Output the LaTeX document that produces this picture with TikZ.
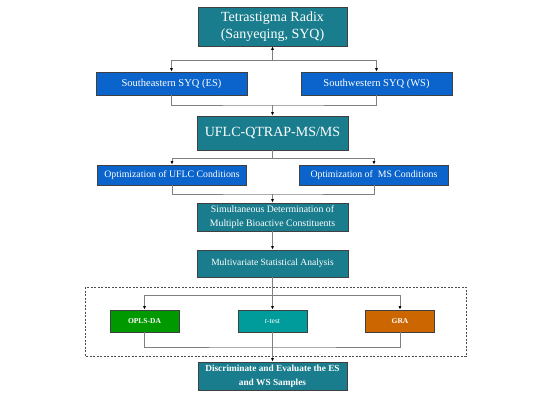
\documentclass[tikz,border=0pt]{standalone}
\usepackage{fontspec}
\setmainfont{Liberation Serif}
\usetikzlibrary{arrows.meta}
\definecolor{tealbox}{HTML}{1A7D8E}
\definecolor{bluebox}{HTML}{0A64CC}
\definecolor{oplsgreen}{HTML}{009A00}
\definecolor{ttestteal}{HTML}{009C9C}
\definecolor{graorange}{HTML}{CC6600}
\begin{document}
\begin{tikzpicture}[x=1pt, y=-1pt,
    box/.style={draw=black!75, line width=0.7pt, text=white, align=center, inner sep=0pt},
    link/.style={draw=black!50, line width=0.7pt},
    arr/.style={link, -{Latex[length=3.5pt,width=3pt,color=black]}}]
\useasboundingbox (0,0) rectangle (550,400);
\node[box, fill=tealbox, minimum width=149pt, minimum height=39pt, font=\fontsize{14}{17}\selectfont] (syq) at (272.5,26.5) {Tetrastigma Radix\\(Sanyeqing, SYQ)};
\foreach \n/\x/\t in {es/171.5/Southeastern SYQ (ES), ws/376.5/Southwestern SYQ (WS)}
    \node[box, fill=bluebox, minimum width=151pt, minimum height=23pt, font=\fontsize{10.5}{12}\selectfont] (\n) at (\x,83.5) {\t};
\node[box, fill=tealbox, minimum width=151pt, minimum height=34pt, font=\fontsize{14}{17}\selectfont] (uflc) at (272.5,133) {UFLC-QTRAP-MS/MS};
\foreach \n/\x/\t in {optl/172/Optimization of UFLC Conditions, optr/374/Optimization of\ \ MS Conditions}
    \node[box, fill=bluebox, minimum width=149pt, minimum height=20pt, font=\fontsize{9.8}{12}\selectfont] (\n) at (\x,175) {\t};
\node[box, fill=tealbox, minimum width=151pt, minimum height=28pt, font=\fontsize{9.8}{14.5}\selectfont] (sim) at (272.5,217) {Simultaneous Determination of\\Multiple Bioactive Constituents};
\node[box, fill=tealbox, minimum width=151pt, minimum height=27pt, font=\fontsize{9.5}{12}\selectfont] (multi) at (272.5,263.5) {Multivariate Statistical Analysis};
\foreach \n/\x/\c/\t in {opls/144.5/oplsgreen/\textbf{OPLS-DA}, ttest/272.5/ttestteal/\textit{t}-test, gra/400/graorange/\textbf{GRA}}
    \node[box, fill=\c, minimum width=69pt, minimum height=22pt, font=\fontsize{7.5}{9}\selectfont] (\n) at (\x,321) {\t};
\node[box, fill=tealbox, minimum width=149pt, minimum height=28pt, font=\bfseries\fontsize{9.3}{14}\selectfont] (final) at (272.5,376) {Discriminate and Evaluate the ES\\and WS Samples};
\draw[black!70, line width=0.9pt, dash pattern=on 2pt off 1.5pt] (85,287) rectangle (466,356);
% junctions
\coordinate (j1) at (272.5,60);
\coordinate (j2) at (272.5,105);
\coordinate (j3) at (272.5,158);
\coordinate (j4) at (272.5,194);
\coordinate (j5) at (272.5,295);
\coordinate (j6) at (272.5,347);
\draw[arr] (j1) -- (syq);
\foreach \n in {es, ws}
    \draw[arr] (j1) -| (\n.north);
\draw[link] (es.south) |- (j2) -| (ws.south);
\draw[arr] (j2) -- (uflc);
\draw[link] (uflc) -- (j3);
\foreach \n in {optl, optr}
    \draw[arr] (j3) -| (\n.north);
\draw[link] (optl.south) |- (j4) -| (optr.south);
\draw[arr] (j4) -- (sim);
\draw[arr] (sim) -- (multi);
\draw[link] (multi) -- (j5);
\foreach \n in {opls, ttest, gra}
    \draw[arr] (j5) -| (\n.north);
\draw[link] (opls.south) |- (j6) -| (gra.south);
\draw[link] (ttest) -- (j6);
\draw[arr] (j6) -- (final);
\end{tikzpicture}
\end{document}
